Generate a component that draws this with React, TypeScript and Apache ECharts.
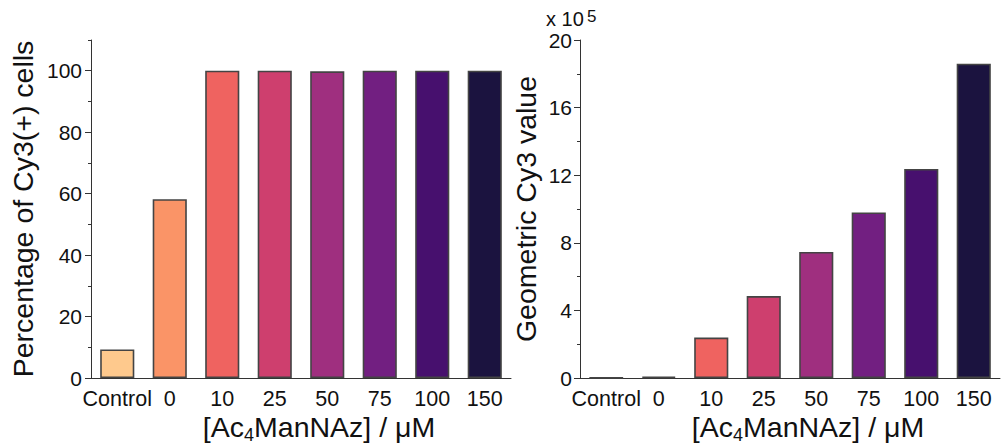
import React, { useEffect, useRef } from "react";
import * as echarts from "echarts";

const categories = ["Control", "0", "10", "25", "50", "75", "100", "150"];
const percentPositive = [9.3, 58.2, 100, 100, 99.8, 100, 100, 100];
// Geometric Cy3 value in units of 10^5
const geoCy3 = [0.02, 0.07, 2.39, 4.85, 7.46, 9.8, 12.37, 18.6];
const barColors = ["#FEC98D", "#FA9467", "#EF6360", "#CE3F6E", "#9F2F7F", "#721F81", "#47106E", "#1B133F"];
const leftMajorTicks = [0, 20, 40, 60, 80, 100];
const leftMinorTicks = [10, 30, 50, 70, 90, 110];

const FONT = "Arial, 'Liberation Sans', sans-serif";
const AXIS_COLOR = "#333";
const TEXT_COLOR = "#111";

export default function App() {
  const ref = useRef<HTMLDivElement>(null);
  useEffect(() => {
    if (!ref.current) return;
    const chart = echarts.init(ref.current, undefined, { renderer: "svg" });
    const xName = {
      name: "{a|[Ac}{s|4}{a|ManNAz] / μM}",
      nameLocation: "middle" as const,
      nameGap: 32,
      nameMoveOverlap: false,
      nameTextStyle: {
        padding: [0, 0, 0, 36],
        rich: {
          a: { fontSize: 28.5, fontFamily: FONT, color: TEXT_COLOR, lineHeight: 34, verticalAlign: "middle" },
          s: { fontSize: 18, fontFamily: FONT, color: TEXT_COLOR, lineHeight: 20, verticalAlign: "bottom" },
        },
      },
    };
    const xAxisBase = {
      type: "category" as const,
      data: categories,
      axisLine: { lineStyle: { color: AXIS_COLOR, width: 1 } },
      axisTick: { alignWithLabel: true, length: 5, lineStyle: { color: AXIS_COLOR } },
      axisLabel: { fontSize: 21.5, fontFamily: FONT, color: TEXT_COLOR, margin: 10, interval: 0 },
      splitLine: { show: false },
    };
    const barSeries = (data: number[], xi: number, yi: number) => ({
      type: "bar" as const,
      xAxisIndex: xi,
      yAxisIndex: yi,
      data,
      barWidth: "65%",
      itemStyle: {
        color: (p: any) => barColors[p.dataIndex],
        borderColor: "#444",
        borderWidth: 1.6,
      },
    });
    const yLabel = { fontSize: 21, fontFamily: FONT, color: TEXT_COLOR };
    chart.setOption({
      animation: false,
      backgroundColor: "#fff",
      grid: [
        { left: 91, top: 40, width: 420, height: 338, containLabel: false, outerBoundsMode: "none" },
        { left: 580, top: 40, width: 420, height: 338, containLabel: false, outerBoundsMode: "none" },
      ],
      xAxis: [
        { ...xAxisBase, gridIndex: 0, ...xName },
        { ...xAxisBase, gridIndex: 1, ...xName },
      ],
      yAxis: [
        {
          type: "value",
          gridIndex: 0,
          position: "left",
          min: 0,
          max: 110,
          name: "Percentage of Cy3(+) cells",
          nameLocation: "middle",
          nameGap: 54,
          nameMoveOverlap: false,
          nameTextStyle: { fontSize: 28.5, fontFamily: FONT, color: TEXT_COLOR },
          axisLine: { show: true, lineStyle: { color: AXIS_COLOR } },
          axisTick: { show: true, length: 6, customValues: leftMajorTicks, lineStyle: { color: AXIS_COLOR } },
          axisLabel: { ...yLabel, margin: 9, customValues: leftMajorTicks },
          splitLine: { show: false },
        },
        {
          type: "value",
          gridIndex: 0,
          position: "left",
          offset: 0,
          min: 0,
          max: 110,
          axisLine: { show: false },
          axisTick: { show: true, length: 3, customValues: leftMinorTicks, lineStyle: { color: AXIS_COLOR } },
          axisLabel: { show: false },
          splitLine: { show: false },
        },
        {
          type: "value",
          gridIndex: 1,
          position: "left",
          min: 0,
          max: 20,
          interval: 4,
          name: "Geometric Cy3 value",
          nameLocation: "middle",
          nameGap: 40,
          nameMoveOverlap: false,
          nameTextStyle: { fontSize: 28.5, fontFamily: FONT, color: TEXT_COLOR },
          axisLine: { show: true, lineStyle: { color: AXIS_COLOR } },
          axisTick: { show: true, length: 6, lineStyle: { color: AXIS_COLOR } },
          minorTick: { show: true, splitNumber: 2, length: 3, lineStyle: { color: AXIS_COLOR } },
          axisLabel: { ...yLabel, margin: 8 },
          splitLine: { show: false },
        },
      ],
      graphic: [
        {
          type: "text",
          x: 546,
          y: 19,
          style: {
            text: "x 10",
            fontSize: 20,
            fontFamily: FONT,
            fill: TEXT_COLOR,
            align: "left",
            verticalAlign: "middle",
          },
        },
        {
          type: "text",
          x: 587,
          y: 16.5,
          style: {
            text: "5",
            fontSize: 17,
            fontFamily: FONT,
            fill: TEXT_COLOR,
            align: "left",
            verticalAlign: "middle",
          },
        },
      ],
      series: [barSeries(percentPositive, 0, 0), barSeries(geoCy3, 1, 2)],
    });
    return () => chart.dispose();
  }, []);
  return <div ref={ref} style={{ position: "fixed", left: 0, top: 0, width: 1002, height: 445 }} />;
}
